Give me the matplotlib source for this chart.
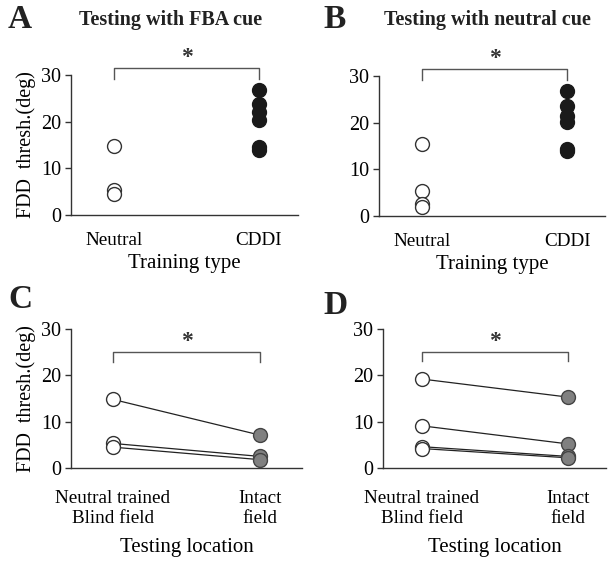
import numpy as np
import matplotlib
matplotlib.use('agg')
import matplotlib.pyplot as plt

plt.rcParams['font.family'] = ['Liberation Serif', 'DejaVu Serif']
plt.rcParams['text.color'] = '#222222'

# panel A / B: single-group thresholds
a_neutral = [14.8, 5.3, 4.5]
a_cddi = [26.8, 23.8, 22.0, 20.4, 14.5, 14.0]
b_neutral = [15.5, 5.3, 2.6, 2.0]
b_cddi = [26.8, 23.5, 21.5, 20.2, 14.3, 14.0]
ab_ticklabels = ['Neutral', 'CDDI']

# panel C / D: paired blind field vs intact field
c_blind = [14.8, 5.3, 4.5]
c_intact = [7.1, 2.5, 1.8]
d_blind = [19.2, 9.1, 4.6, 4.2]
d_intact = [15.3, 5.2, 2.5, 2.2]
cd_ticklabels = ['Neutral trained\nBlind field', 'Intact\nfield']

W, H = 613, 561
fig = plt.figure(figsize=(W / 100, H / 100), dpi=100)


def make_ax(x0, x1, y30, y0):
    return fig.add_axes([x0 / W, 1 - y0 / H, (x1 - x0) / W, (y0 - y30) / H])


def style_ax(ax, xlim, ticklabels, xlabel, ylabel=True, xpad=12, lpad=4):
    ax.set_ylim(0, 30)
    ax.set_xlim(*xlim)
    ax.set_yticks([0, 10, 20, 30])
    ax.set_xticks([0, 1])
    ax.set_xticklabels(ticklabels, fontsize=13.8, linespacing=1.24)
    ax.tick_params(axis='y', labelsize=14.5, length=4, width=1, color='#333333', pad=3)
    ax.tick_params(axis='x', length=0, pad=xpad)
    for s in ['top', 'right']:
        ax.spines[s].set_visible(False)
    for s in ['left', 'bottom']:
        ax.spines[s].set_color('#333333')
        ax.spines[s].set_linewidth(1)
    ax.set_xlabel(xlabel, fontsize=15, labelpad=lpad)
    if ylabel:
        ax.set_ylabel('FDD  thresh.(deg)', fontsize=14.5, labelpad=4)


def bracket(ax, ytop, ydrop, ystar):
    ax.plot([0, 0, 1, 1], [ydrop, ytop, ytop, ydrop], color='#555555', lw=1, clip_on=False)
    ax.text(0.5, ystar, '*', ha='center', va='center', fontsize=17, fontweight='bold',
            color='#333333', clip_on=False)


open_kw = dict(marker='o', markersize=10, markerfacecolor='white',
               markeredgecolor='#333333', markeredgewidth=1, linestyle='none')
black_kw = dict(marker='o', markersize=10, markerfacecolor='#1a1a1a',
                markeredgecolor='#1a1a1a', markeredgewidth=1, linestyle='none')
gray_kw = dict(marker='o', markersize=10, markerfacecolor='#808080',
               markeredgecolor='#444444', markeredgewidth=1, linestyle='none')

# A
axA = make_ax(71, 298, 75, 215)
axA.plot(np.zeros(len(a_neutral)), a_neutral, **open_kw, clip_on=False)
axA.plot(np.ones(len(a_cddi)), a_cddi, **black_kw, clip_on=False)
style_ax(axA, (-0.296, 1.269), ab_ticklabels, 'Training type')
bracket(axA, 31.5, 29.2, 33.8)

# B
axB = make_ax(379, 605, 76, 216)
axB.plot(np.zeros(len(b_neutral)), b_neutral, **open_kw, clip_on=False)
axB.plot(np.ones(len(b_cddi)), b_cddi, **black_kw, clip_on=False)
style_ax(axB, (-0.297, 1.262), ab_ticklabels, 'Training type', ylabel=False)
bracket(axB, 31.5, 29.2, 33.8)

# C
axC = make_ax(71, 302, 329, 468)
for b, i in zip(c_blind, c_intact):
    axC.plot([0, 1], [b, i], color='#222222', lw=0.9, zorder=1)
axC.plot(np.zeros(len(c_blind)), c_blind, **open_kw, clip_on=False, zorder=3)
axC.plot(np.ones(len(c_intact)), c_intact, **gray_kw, clip_on=False, zorder=3)
style_ax(axC, (-0.286, 1.286), cd_ticklabels, 'Testing location', xpad=16, lpad=8)
bracket(axC, 25.1, 22.9, 27.4)

# D
axD = make_ax(383, 606, 329, 468)
for b, i in zip(d_blind, d_intact):
    axD.plot([0, 1], [b, i], color='#222222', lw=0.9, zorder=1)
axD.plot(np.zeros(len(d_blind)), d_blind, **open_kw, clip_on=False, zorder=3)
axD.plot(np.ones(len(d_intact)), d_intact, **gray_kw, clip_on=False, zorder=3)
style_ax(axD, (-0.267, 1.26), cd_ticklabels, 'Testing location', ylabel=False, xpad=16, lpad=8)
bracket(axD, 25.0, 23.0, 27.4)

# panel letters and titles
fig.text(8 / W, 1 - 20 / H, 'A', fontsize=24, fontweight='bold', va='center')
fig.text(323 / W, 1 - 20 / H, 'B', fontsize=24, fontweight='bold', va='center')
fig.text(8 / W, 1 - 300 / H, 'C', fontsize=24, fontweight='bold', va='center')
fig.text(323 / W, 1 - 306 / H, 'D', fontsize=24, fontweight='bold', va='center')
fig.text(171 / W, 1 - 20 / H, 'Testing with FBA cue', fontsize=14.5, fontweight='bold',
         ha='center', va='center')
fig.text(487 / W, 1 - 20 / H, 'Testing with neutral cue', fontsize=14.5, fontweight='bold',
         ha='center', va='center')

fig.savefig('out.png', dpi=100)
